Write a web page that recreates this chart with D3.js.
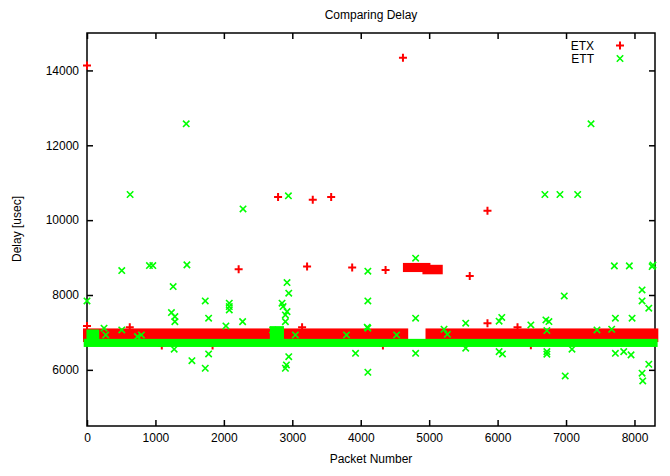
<!DOCTYPE html>
<html>
<head>
<meta charset="utf-8">
<script src="https://cdn.jsdelivr.net/npm/d3@7"></script>
<style>
  body { margin: 0; background: #fff; }
  text { font-family: "Liberation Sans", Arial, sans-serif; font-size: 12px; fill: #000; }
</style>
</head>
<body>
<svg id="chart" width="670" height="476"></svg>
<script>
// tick labels
const xTicks = [0, 1000, 2000, 3000, 4000, 5000, 6000, 7000, 8000];
const yTicks = [6000, 8000, 10000, 12000, 14000];

// dense runs of points, read as [packet from, packet to, delay low, delay high]
const etxBands = [
  [0, 4635, 6850, 7000],
  [5005, 8290, 6850, 7000],
  [4675, 4960, 8720, 8750],
  [4960, 5140, 8660, 8700]
];
const ettBands = [
  [0, 8290, 6700, 6740],
  [40, 130, 6880, 6990],
  [2720, 2830, 6900, 7080]
];

// single points [packet, delay]
const etxPoints = [
  [0, 14130], [4617, 14340], [5852, 10250], [2792, 10615], [3299, 10545],
  [3568, 10615], [2216, 8690], [3216, 8760], [3875, 8735], [4363, 8670],
  [5593, 8510], [5852, 7245], [0, 7170], [1093, 6650], [1835, 6650],
  [4324, 6650], [6486, 6660], [625, 7140], [3143, 7140], [6291, 7140]
];
const ettPoints = [
  [1450, 12575], [7365, 12575], [630, 10685], [6691, 10685], [6911, 10685],
  [7170, 10685], [2280, 10300], [2943, 10650],
  [508, 8653], [912, 8786], [962, 8786], [1460, 8805], [4104, 8636],
  [1259, 8225], [1728, 7842], [2079, 7780], [2079, 7690], [2079, 7600],
  [1234, 7530], [1284, 7422], [1284, 7289], [1777, 7380], [2274, 7289],
  [2030, 7174], [0, 7842],
  [249, 7112], [274, 6933], [508, 7067], [737, 6888], [795, 6933],
  [1274, 6551], [1777, 6425], [1533, 6246], [1728, 6043], [2713, 7067],
  [2923, 8332], [2948, 8048], [2850, 7780], [2865, 7690], [2923, 7556],
  [2899, 7468], [2899, 7289],
  [4104, 7842], [4104, 7112], [4802, 8984], [4802, 7380], [4802, 6443],
  [3924, 6443], [4104, 5936],
  [2948, 6353], [2914, 6131], [2899, 6043],
  [5217, 7085], [5266, 6950], [5534, 7246], [5534, 6578], [3045, 6933],
  [3792, 6933], [4524, 6933], [4095, 7139],
  [6974, 7976], [7706, 8778], [7925, 8778], [8258, 8760], [8270, 8800],
  [8111, 8136], [8111, 7842], [8209, 7647],
  [7721, 7380], [7965, 7380], [6022, 7300], [6061, 7400], [6706, 7334],
  [6750, 7290], [6486, 7200], [6720, 7050],
  [7452, 7067], [7667, 7085], [6022, 6487], [6071, 6425], [6720, 6487],
  [6720, 6420], [7087, 6551], [7721, 6443],
  [7843, 6487], [7950, 6400], [8209, 6150], [8111, 5910], [8121, 5703],
  [6988, 5837]
];

const plotL = 87, plotR = 655, plotT = 33, plotB = 426;
const red = "#ff0000", green = "#00ff00";

const svg = d3.select("#chart");

const x = d3.scaleLinear().domain([0, 8300]).range([plotL, plotR]);
const y = d3.scaleLinear().domain([4500, 15000]).range([plotB, plotT]);

const plus = "M-4,0H4M0,-4V4";
const cross = "M-3.2,-3.2L3.2,3.2M-3.2,3.2L3.2,-3.2";

//--axes, ticks point inward like gnuplot
const axes = svg.append("g");
axes.append("g")
  .attr("transform", `translate(0,${plotB})`)
  .call(d3.axisBottom(x).tickValues(xTicks).tickSize(-6).tickPadding(7.5).tickFormat(d3.format("d")));
axes.append("g")
  .attr("transform", `translate(0,${plotT})`)
  .call(d3.axisTop(x).tickValues(xTicks).tickSize(-6).tickFormat(""));
axes.append("g")
  .attr("transform", `translate(${plotL},0)`)
  .call(d3.axisLeft(y).tickValues(yTicks).tickSize(-6).tickPadding(8).tickFormat(d3.format("d")));
axes.append("g")
  .attr("transform", `translate(${plotR},0)`)
  .call(d3.axisRight(y).tickValues(yTicks).tickSize(-6).tickFormat(""));
axes.selectAll(".domain").remove();
axes.selectAll(".tick line").attr("stroke", "#000").attr("stroke-width", 1.5);
axes.selectAll(".tick text")
  .attr("font-family", "Liberation Sans, Arial, sans-serif")
  .attr("font-size", 12)
  .attr("fill", "#000");

svg.append("rect")
  .attr("x", plotL).attr("y", plotT)
  .attr("width", plotR - plotL).attr("height", plotB - plotT)
  .attr("fill", "none").attr("stroke", "#000").attr("stroke-width", 1.5);

//--series: ETX first, ETT drawn over it
const drawSeries = (bands, points, color, shape, pad, sw) => {
  const g = svg.append("g");
  g.selectAll("rect")
    .data(bands)
    .enter()
    .append("rect")
    .attr("x", (d) => x(d[0]) - pad)
    .attr("width", (d) => x(d[1]) - x(d[0]) + 2 * pad)
    .attr("y", (d) => y(d[3]) - pad)
    .attr("height", (d) => y(d[2]) - y(d[3]) + 2 * pad)
    .attr("fill", color);
  g.selectAll("path")
    .data(points)
    .enter()
    .append("path")
    .attr("transform", (d) => `translate(${x(d[0])},${y(d[1])})`)
    .attr("d", shape)
    .attr("stroke", color)
    .attr("stroke-width", sw)
    .attr("fill", "none");
};
drawSeries(etxBands, etxPoints, red, plus, 4, 2);
drawSeries(ettBands, ettPoints, green, cross, 3.3, 1.6);

//--legend
const legend = svg.append("g");
legend.append("text").attr("x", 594).attr("y", 50).attr("text-anchor", "end").text("ETX");
legend.append("text").attr("x", 594).attr("y", 63).attr("text-anchor", "end").text("ETT");
legend.append("path").attr("transform", "translate(620,45.5)").attr("d", plus)
  .attr("stroke", red).attr("stroke-width", 2).attr("fill", "none");
legend.append("path").attr("transform", "translate(620,58.5)").attr("d", cross)
  .attr("stroke", green).attr("stroke-width", 1.6).attr("fill", "none");

//--titles
svg.append("text").attr("x", 371).attr("y", 19).attr("text-anchor", "middle").text("Comparing Delay");
svg.append("text").attr("x", 371).attr("y", 463).attr("text-anchor", "middle").text("Packet Number");
svg.append("text")
  .attr("transform", "translate(21,229) rotate(-90)")
  .attr("text-anchor", "middle")
  .text("Delay [usec]");
</script>
</body>
</html>
